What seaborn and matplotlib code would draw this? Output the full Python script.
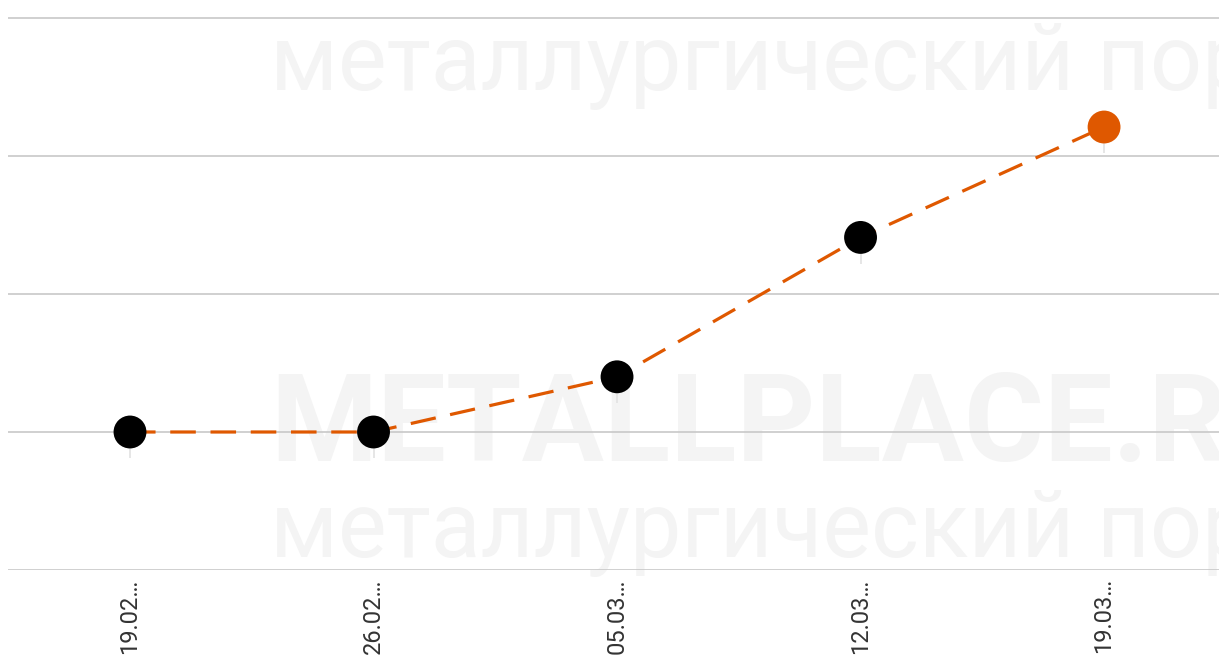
import pandas as pd
import seaborn as sns
import matplotlib.pyplot as plt

# Datos del gráfico (escala arbitraria, el eje Y no tiene etiquetas)
fechas = ["19.02…", "26.02…", "05.03…", "12.03…", "19.03…"]
valores = [100.0, 100.0, 104.0, 114.1, 122.1]
colores_puntos = ["#000000", "#000000", "#000000", "#000000", "#df5800"]
niveles_grid = [90, 100, 110, 120, 130]

df = pd.DataFrame({"x": range(len(fechas)), "fecha": fechas, "valor": valores})

sns.set_theme(style="white")
plt.rcParams["font.family"] = ["Roboto", "DejaVu Sans"]

fig = plt.figure(figsize=(12.19, 6.61), dpi=100)
ax = fig.add_axes([8 / 1219, 91 / 661, 1 - 8 / 1219, 570 / 661])

# marca de agua (cortada en el borde, igual que en el original)
marca = "металлургический портал"
ax.text(262 / 1211, 0.885, marca, transform=ax.transAxes, fontsize=66,
        color="#f4f4f4", va="center", ha="left", zorder=0)
ax.text(262 / 1211, 0.065, marca, transform=ax.transAxes, fontsize=66,
        color="#f4f4f4", va="center", ha="left", zorder=0)
ax.text(262 / 1211, 0.25, "METALLPLACE.RU", transform=ax.transAxes,
        fontsize=88, fontweight="bold", color="#f4f4f4", va="center", ha="left", zorder=0)

# líneas de cuadrícula
for g in niveles_grid:
    ax.axhline(g, color="#c8c8c8", lw=1.2, zorder=1)

# pequeñas líneas verticales bajo cada punto
ax.vlines(df["x"], df["valor"] - 1.9, df["valor"], color="#e2e2e2", lw=1.2, zorder=2)

sns.lineplot(data=df, x="x", y="valor", ax=ax, color="#df5800", lw=2.3,
             linestyle=(0, (8, 4.6)), zorder=3)
sns.scatterplot(data=df, x="x", y="valor", ax=ax, hue="fecha",
                palette=dict(zip(fechas, colores_puntos)), s=560,
                edgecolor="none", legend=False, zorder=4)

ax.set_xlim(-0.501, 4.472)
ax.set_ylim(90, 90 + 570 / 13.8)
ax.set_xticks(df["x"])
ax.set_xticklabels(fechas, rotation=90, fontsize=17, color="#333333", va="top")
ax.tick_params(axis="x", length=0, pad=6)
ax.set_yticks([])
ax.set_xlabel("")
ax.set_ylabel("")
for s in ax.spines.values():
    s.set_visible(False)

fig.savefig("out.png", dpi=100)
